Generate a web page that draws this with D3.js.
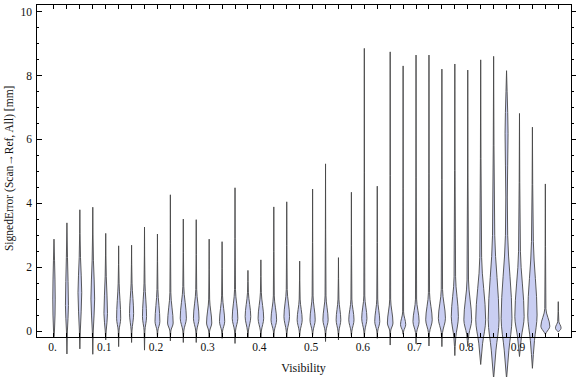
<!DOCTYPE html>
<html>
<head>
<meta charset="utf-8">
<script src="https://cdn.jsdelivr.net/npm/d3@7"></script>
<style>
  body { margin: 0; background: #fff; }
  svg { display: block; font-family: "Liberation Serif", "Times New Roman", serif; }
</style>
</head>
<body>
<div id="chart-area"></div>
<script>
const W = 576, H = 377;

// bin positions (visibility)
const visibility = [0, 0.025, 0.05, 0.075, 0.1, 0.125, 0.15, 0.175, 0.2, 0.225,
  0.25, 0.275, 0.3, 0.325, 0.35, 0.375, 0.4, 0.425, 0.45, 0.475,
  0.5, 0.525, 0.55, 0.575, 0.6, 0.625, 0.65, 0.675, 0.7, 0.725,
  0.75, 0.775, 0.8, 0.825, 0.85, 0.875, 0.9, 0.925, 0.95, 0.975];

// density profile of each violin: [signed error (mm), density]
const profiles = [
  [[-0.18, 0], [0, 0.5], [1.0, 1.3], [2.2, 0.6], [2.88, 0]],
  [[-0.72, 0], [0, 0.5], [0.8, 1.6], [2.3, 0.6], [3.39, 0]],
  [[-0.56, 0], [0, 0.5], [1.2, 2.0], [2.3, 0.7], [3.80, 0]],
  [[-0.73, 0], [0, 0.5], [1.0, 2.0], [2.2, 0.7], [3.88, 0]],
  [[-0.28, 0], [0, 0.5], [0.55, 1.9], [1.7, 0.6], [3.06, 0]],
  [[-0.49, 0], [0, 0.4], [0.4, 2.2], [1.5, 0.5], [2.67, 0]],
  [[-0.36, 0], [0, 0.4], [0.55, 2.2], [1.5, 0.5], [2.69, 0]],
  [[-0.60, 0], [0, 0.4], [0.45, 2.2], [1.5, 0.5], [3.26, 0]],
  [[-0.22, 0], [0, 0.4], [0.3, 2.6], [1.3, 0.5], [3.04, 0]],
  [[-0.31, 0], [0, 0.5], [0.25, 3.0], [1.2, 0.5], [4.27, 0]],
  [[-0.36, 0], [0, 0.5], [0.4, 3.3], [1.4, 0.5], [3.51, 0]],
  [[-0.36, 0], [0, 0.5], [0.4, 3.0], [1.3, 0.5], [3.49, 0]],
  [[-0.22, 0], [0, 0.5], [0.25, 2.8], [1.0, 0.5], [2.88, 0]],
  [[-0.23, 0], [0, 0.5], [0.3, 2.8], [1.1, 0.5], [2.80, 0]],
  [[-0.39, 0], [0, 0.5], [0.4, 3.0], [1.3, 0.5], [4.49, 0]],
  [[-0.22, 0], [0, 0.5], [0.45, 3.0], [1.2, 0.5], [1.90, 0]],
  [[-0.22, 0], [0, 0.5], [0.4, 3.0], [1.2, 0.5], [2.23, 0]],
  [[-0.20, 0], [0, 0.5], [0.35, 3.0], [1.1, 0.5], [3.89, 0]],
  [[-0.20, 0], [0, 0.5], [0.45, 3.0], [1.3, 0.5], [4.05, 0]],
  [[-0.15, 0], [0, 0.5], [0.35, 2.7], [1.0, 0.5], [2.19, 0]],
  [[-0.15, 0], [0, 0.5], [0.35, 2.8], [1.1, 0.5], [4.45, 0]],
  [[-0.33, 0], [0, 0.5], [0.35, 2.8], [1.1, 0.5], [5.24, 0]],
  [[-0.28, 0], [0, 0.5], [0.35, 2.5], [1.0, 0.5], [2.30, 0]],
  [[-0.15, 0], [0, 0.5], [0.35, 2.8], [1.0, 0.5], [4.35, 0]],
  [[-0.20, 0], [0, 0.5], [0.4, 2.8], [1.1, 0.5], [8.86, 0]],
  [[-0.23, 0], [0, 0.5], [0.3, 2.7], [1.0, 0.5], [4.54, 0]],
  [[-0.44, 0], [0, 0.5], [0.25, 3.0], [1.0, 0.5], [8.75, 0]],
  [[-0.10, 0], [0, 0.6], [0.2, 2.8], [0.6, 0.5], [8.31, 0]],
  [[-0.40, 0], [-0.05, 0.6], [0.3, 3.3], [1.0, 0.6], [8.65, 0]],
  [[-0.47, 0], [-0.05, 0.6], [0.35, 3.5], [1.2, 0.6], [8.65, 0]],
  [[-0.49, 0], [-0.05, 0.7], [0.4, 3.8], [1.3, 0.7], [8.21, 0]],
  [[-0.77, 0], [-0.2, 1.0], [0.45, 3.8], [1.7, 0.8], [8.37, 0]],
  [[-0.49, 0], [-0.1, 1.2], [0.35, 4.2], [1.6, 0.8], [8.18, 0]],
  [[-1.05, 0], [-0.4, 2.0], [0.35, 5.3], [2.3, 1.0], [8.50, 0]],
  [[-1.50, 0], [-0.6, 2.5], [0.35, 5.8], [3.0, 1.2], [8.61, 0]],
  [[-1.50, 0], [-0.6, 2.5], [0.4, 5.8], [3.0, 1.2], [4.2, 0.8], [6.2, 1.6], [7.5, 0.6], [8.16, 0]],
  [[-0.80, 0], [-0.2, 2.0], [0.45, 5.0], [2.5, 1.0], [6.82, 0]],
  [[-1.17, 0], [-0.3, 2.2], [0.5, 5.0], [2.8, 1.0], [6.39, 0]],
  [[-0.10, 0], [-0.05, 1.0], [0.15, 4.8], [0.7, 0.6], [4.61, 0]],
  [[-0.02, 0], [0, 1.0], [0.1, 3.0], [0.3, 0.6], [0.92, 0]]
];

const xTickValues = [0, 0.1, 0.2, 0.3, 0.4, 0.5, 0.6, 0.7, 0.8, 0.9];
const xTickLabels = ["0.", "0.1", "0.2", "0.3", "0.4", "0.5", "0.6", "0.7", "0.8", "0.9"];
const yMajor = [0, 2, 4, 6, 8, 10];
const yMinor = [0.5, 1, 1.5, 2.5, 3, 3.5, 4.5, 5, 5.5, 6.5, 7, 7.5, 8.5, 9, 9.5];

const FRAME = { LEFT: 36, RIGHT: 571, TOP: 4.5, BOTTOM: 337 };

const svg = d3.select('#chart-area').append('svg')
    .attr('width', W)
    .attr('height', H);

const x = d3.scaleLinear().domain([-0.0348, 0.9996]).range([FRAME.LEFT, FRAME.RIGHT]);
const y = d3.scaleLinear().domain([-0.188, 10.235]).range([FRAME.BOTTOM, FRAME.TOP]);
const w = d3.scaleLinear().domain([0, 6]).range([0, 5.6]);

// violins
const violins = svg.append("g");
profiles.forEach((prof, i) => {
    const cx = x(visibility[i]);
    const area = d3.area()
        .y(d => y(d[0]))
        .x0(d => cx - w(d[1]))
        .x1(d => cx + w(d[1]))
        .curve(d3.curveMonotoneY);
    violins.append("path")
        .attr("d", area(prof))
        .attr("fill", "#c9cef2")
        .attr("stroke", "#474747")
        .attr("stroke-width", 0.9)
        .attr("stroke-linejoin", "round");
});

// frame
const frame = svg.append("g")
    .attr("stroke", "#000")
    .attr("stroke-width", 1)
    .attr("shape-rendering", "crispEdges");

frame.append("rect")
    .attr("x", FRAME.LEFT)
    .attr("y", FRAME.TOP)
    .attr("width", FRAME.RIGHT - FRAME.LEFT)
    .attr("height", FRAME.BOTTOM - FRAME.TOP)
    .attr("fill", "none");

// top and bottom ticks at every bin
visibility.forEach(v => {
    frame.append("line")
        .attr("x1", x(v)).attr("x2", x(v))
        .attr("y1", FRAME.TOP).attr("y2", FRAME.TOP + 4.5);
    frame.append("line")
        .attr("x1", x(v)).attr("x2", x(v))
        .attr("y1", FRAME.BOTTOM).attr("y2", FRAME.BOTTOM - 4);
});

// left (inward) and right (outward) ticks
yMajor.forEach(v => {
    frame.append("line")
        .attr("x1", FRAME.LEFT).attr("x2", FRAME.LEFT + 5.5)
        .attr("y1", y(v)).attr("y2", y(v));
    frame.append("line")
        .attr("x1", FRAME.RIGHT).attr("x2", FRAME.RIGHT + 4.5)
        .attr("y1", y(v)).attr("y2", y(v));
});
yMinor.forEach(v => {
    frame.append("line")
        .attr("x1", FRAME.LEFT).attr("x2", FRAME.LEFT + 3.3)
        .attr("y1", y(v)).attr("y2", y(v));
    frame.append("line")
        .attr("x1", FRAME.RIGHT).attr("x2", FRAME.RIGHT + 3)
        .attr("y1", y(v)).attr("y2", y(v));
});

// tick labels
svg.append("g").selectAll("text")
    .data(yMajor)
    .join("text")
    .attr("x", FRAME.LEFT - 4)
    .attr("y", d => y(d))
    .attr("dy", "0.33em")
    .attr("text-anchor", "end")
    .attr("font-size", "11.5px")
    .attr("fill", "#111")
    .text(d => d);

svg.append("g").selectAll("text")
    .data(xTickValues)
    .join("text")
    .attr("x", d => x(d) - 1.5)
    .attr("y", FRAME.BOTTOM + 14)
    .attr("text-anchor", "middle")
    .attr("font-size", "11.5px")
    .attr("fill", "#111")
    .text((d, i) => xTickLabels[i]);

// axis titles
svg.append("text")
    .attr("x", (FRAME.LEFT + FRAME.RIGHT) / 2)
    .attr("y", 372)
    .attr("text-anchor", "middle")
    .attr("font-size", "12px")
    .attr("fill", "#111")
    .text("Visibility");

svg.append("text")
    .attr("transform", `translate(13, ${y(5.1)}) rotate(-90)`)
    .attr("text-anchor", "middle")
    .attr("font-size", "11.5px")
    .attr("fill", "#111")
    .text("SignedError (Scan\u2192Ref, All) [mm]");
</script>
</body>
</html>
